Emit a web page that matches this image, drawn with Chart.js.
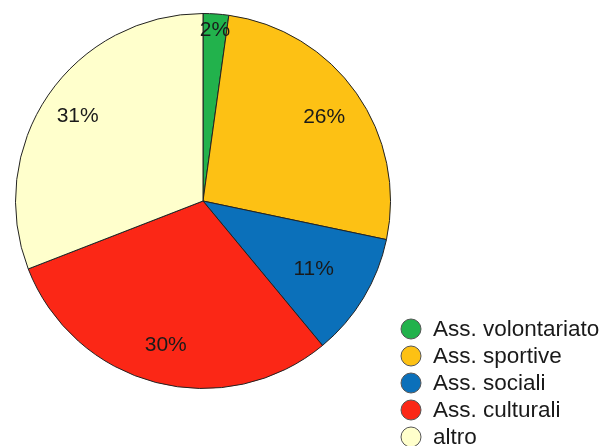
<!DOCTYPE html>
<html lang="it">
<head>
  <meta charset="UTF-8" />
  <title>Associazioni</title>
  <style>
    body {
      margin: 0;
      background-color: #ffffff;
    }
    .wrap {
      width: 606px;
      height: 446px;
      position: relative;
    }
  </style>
</head>
<body>
  <div class="wrap">
    <canvas id="torta"></canvas>
  </div>

  <script src="https://cdn.jsdelivr.net/npm/chart.js"></script>
  <script>
    // dati (percentuali)
    const categorie = ['Ass. volontariato', 'Ass. sportive', 'Ass. sociali', 'Ass. culturali', 'altro'];
    const valori = [2.2, 26.1, 10.7, 30.1, 30.9];
    const colori = ['#22b24c', '#fdc114', '#0b70ba', '#fb2716', '#ffffcc'];

    // distanza delle etichette dal centro (frazione del raggio)
    const posEtichette = [0.92, 0.79, 0.69, 0.79, 0.81];
    const FONT = '"Liberation Sans", Arial, Helvetica, sans-serif';

    const etichettePlugin = {
      id: 'etichette',
      afterDatasetsDraw(chart) {
        const ctx = chart.ctx;
        const arcs = chart.getDatasetMeta(0).data;
        ctx.save();
        ctx.font = '21px ' + FONT;
        ctx.fillStyle = '#1a1a1a';
        ctx.textAlign = 'center';
        ctx.textBaseline = 'middle';
        arcs.forEach((arc, i) => {
          const p = arc.getProps(['x', 'y', 'startAngle', 'endAngle', 'outerRadius'], true);
          const a = (p.startAngle + p.endAngle) / 2;
          const r = p.outerRadius * posEtichette[i];
          ctx.fillText(Math.round(valori[i]) + '%', p.x + Math.cos(a) * r, p.y + Math.sin(a) * r + 1);
        });
        ctx.restore();
      }
    };

    // legenda disegnata in basso a destra
    const legendaPlugin = {
      id: 'legenda',
      afterDraw(chart) {
        const ctx = chart.ctx;
        ctx.save();
        ctx.font = '22.5px ' + FONT;
        ctx.textBaseline = 'middle';
        categorie.forEach((nome, i) => {
          const y = 329 + i * 27;
          ctx.beginPath();
          ctx.arc(411, y, 10, 0, Math.PI * 2);
          ctx.fillStyle = colori[i];
          ctx.fill();
          ctx.lineWidth = 1;
          ctx.strokeStyle = '#555555';
          ctx.stroke();
          ctx.fillStyle = '#1a1a1a';
          ctx.fillText(nome, 433, y + 1);
        });
        ctx.restore();
      }
    };

    new Chart(document.getElementById('torta'), {
      type: 'pie',
      data: {
        labels: categorie,
        datasets: [{
          data: valori,
          backgroundColor: colori,
          borderColor: '#222222',
          borderWidth: 1
        }]
      },
      options: {
        responsive: true,
        maintainAspectRatio: false,
        animation: false,
        layout: {
          padding: { left: 15, top: 13, right: 215, bottom: 57 }
        },
        plugins: {
          legend: { display: false },
          tooltip: { enabled: false }
        }
      },
      plugins: [etichettePlugin, legendaPlugin]
    });
  </script>
</body>
</html>
